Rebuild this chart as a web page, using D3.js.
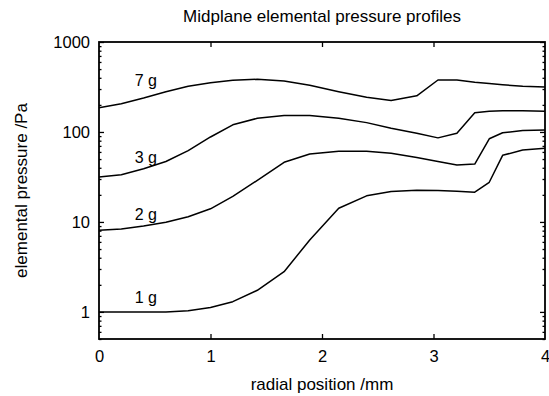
<!DOCTYPE html>
<html>
<head>
<meta charset="utf-8">
<script src="https://cdn.jsdelivr.net/npm/d3@7"></script>
<style>
  html, body { margin: 0; padding: 0; background: #fff; }
  svg { display: block; }
  text { font-family: "Liberation Sans", Arial, Helvetica, sans-serif; fill: #000; }
</style>
</head>
<body>
<svg id="chart" width="549" height="396"></svg>
<script>
// ---- data ----
const radius = [0, 0.2, 0.4, 0.6, 0.8, 1.0, 1.2, 1.42, 1.66, 1.89, 2.15, 2.4, 2.62, 2.85, 3.04, 3.21, 3.37, 3.5, 3.62, 3.8, 4.0];
const p7g = [186, 206, 238, 280, 322, 352, 375, 385, 368, 330, 280, 243, 224, 252, 378, 378, 357, 345, 335, 322, 316];
const p3g = [31.5, 33.5, 39, 47, 62, 88, 120, 142, 152, 152, 142, 127, 110, 97, 86, 97, 164, 170, 172, 172, 170];
const p2g = [8.1, 8.35, 9.0, 9.9, 11.4, 14, 19.2, 29, 46, 57, 61, 61, 58, 52, 47, 43, 44, 84, 98, 104, 105];
const p1g = [1.0, 1.0, 1.0, 1.0, 1.03, 1.12, 1.3, 1.74, 2.8, 6.3, 14.2, 19.5, 21.8, 22.5, 22.3, 22, 21.4, 27.6, 55, 63, 66];
const seriesNames = ["7 g", "3 g", "2 g", "1 g"];
const seriesValues = [p7g, p3g, p2g, p1g];
const labelX = [0.32, 0.32, 0.32, 0.32];
const labelY = [325, 45, 10.5, 1.26];
const xTicks = [0, 1, 2, 3, 4];
const yTicks = [1, 10, 100, 1000];
const yMinorTicks = [0.5, 0.6, 0.7, 0.8, 0.9, 2, 3, 4, 5, 6, 7, 8, 9, 20, 30, 40, 50, 60, 70, 80, 90, 200, 300, 400, 500, 600, 700, 800, 900];
const titleText = "Midplane elemental pressure profiles";
const xTitle = "radial position /mm";
const yTitle = "elemental pressure /Pa";

// ---- layout ----
const L = 99, R = 545, T = 42, B = 339;
const svg = d3.select("#chart");
const x = d3.scaleLinear().domain([0, 4]).range([L, R]);
const y = d3.scaleLog().domain([0.5, 1000]).range([B, T]);

const tickFont = "16.5px";

// bottom axis
const gB = svg.append("g").attr("transform", `translate(0,${B})`)
  .call(d3.axisBottom(x).tickValues(xTicks).tickFormat(d3.format("d"))
    .tickSizeInner(-5).tickSizeOuter(0).tickPadding(11));
gB.select(".domain").remove();
gB.selectAll("text").style("font-size", tickFont).attr("fill", "#000");
gB.selectAll(".tick").filter(d => d === 0 || d === 4).select("line").remove();

// top axis (ticks only)
const gT = svg.append("g").attr("transform", `translate(0,${T})`)
  .call(d3.axisTop(x).tickValues([1, 2, 3]).tickFormat("").tickSizeInner(-5).tickSizeOuter(0));
gT.select(".domain").remove();

// left axis
const gL = svg.append("g").attr("transform", `translate(${L},0)`)
  .call(d3.axisLeft(y).tickValues(yTicks).tickFormat(d3.format("d"))
    .tickSizeInner(-5).tickSizeOuter(0).tickPadding(9));
gL.select(".domain").remove();
gL.selectAll("text").style("font-size", tickFont).attr("fill", "#000");
const gLm = svg.append("g").attr("transform", `translate(${L},0)`)
  .call(d3.axisLeft(y).tickValues(yMinorTicks).tickFormat("").tickSizeInner(-2.5).tickSizeOuter(0));
gLm.select(".domain").remove();

// right axis
const gR = svg.append("g").attr("transform", `translate(${R},0)`)
  .call(d3.axisRight(y).tickValues(yTicks).tickFormat("").tickSizeInner(-5).tickSizeOuter(0));
gR.select(".domain").remove();
const gRm = svg.append("g").attr("transform", `translate(${R},0)`)
  .call(d3.axisRight(y).tickValues(yMinorTicks).tickFormat("").tickSizeInner(-2.5).tickSizeOuter(0));
gRm.select(".domain").remove();

svg.selectAll(".tick line").attr("stroke", "#000").attr("stroke-width", 1.3);

// curves
const line = d3.line().x((d, i) => x(radius[i])).y(d => y(d)).curve(d3.curveLinear);
svg.append("g").selectAll("path").data(seriesValues).join("path")
  .attr("d", line)
  .attr("fill", "none")
  .attr("stroke", "#000")
  .attr("stroke-width", 1.5)
  .attr("stroke-linejoin", "round");

// frame
svg.append("rect").attr("x", L).attr("y", T).attr("width", R - L).attr("height", B - T)
  .attr("fill", "none").attr("stroke", "#000").attr("stroke-width", 1.8);

// curve labels
svg.append("g").selectAll("text").data(seriesNames).join("text")
  .attr("x", (d, i) => x(labelX[i]))
  .attr("y", (d, i) => y(labelY[i]))
  .style("font-size", "16px")
  .text(d => d);

// titles
svg.append("text").attr("x", (L + R) / 2).attr("y", 22).attr("text-anchor", "middle")
  .style("font-size", "17px").text(titleText);
svg.append("text").attr("x", (L + R) / 2).attr("y", 390).attr("text-anchor", "middle")
  .style("font-size", "17px").text(xTitle);
svg.append("text").attr("transform", `translate(27,${(T + B) / 2}) rotate(-90)`)
  .attr("text-anchor", "middle").style("font-size", "17px").text(yTitle);
</script>
</body>
</html>
